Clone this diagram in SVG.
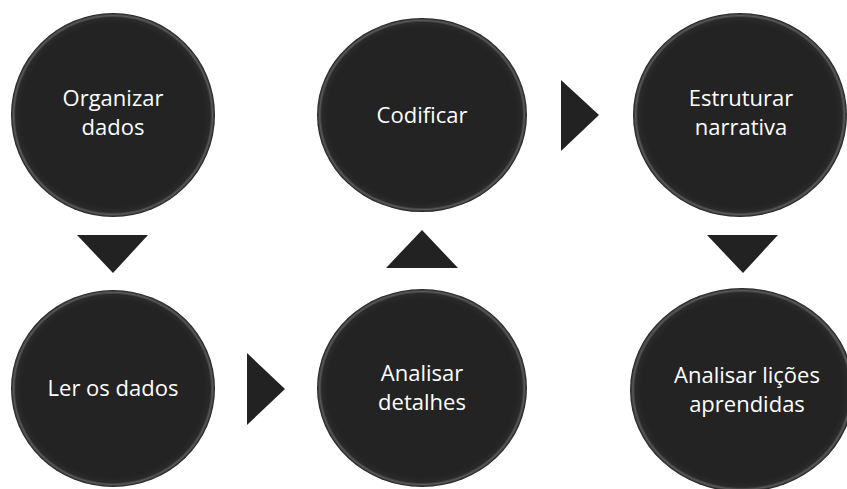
<svg xmlns="http://www.w3.org/2000/svg" width="847" height="489" viewBox="0 0 847 489">
  <defs>
    <radialGradient id="rim" cx="50%" cy="50%" r="50%">
      <stop offset="0.9" stop-color="#232323"/>
      <stop offset="0.955" stop-color="#2a2a2a"/>
      <stop offset="0.975" stop-color="#5a5a5a"/>
      <stop offset="1" stop-color="#1c1c1c"/>
    </radialGradient>
    <style>
      .node ellipse { fill: url(#rim); }
      .node text { fill: #ffffff; font-family: "Open Sans", "Liberation Sans", sans-serif; font-size: 22px; text-anchor: middle; }
      .conn polygon { fill: #222222; }
    </style>
  </defs>
  <rect width="847" height="489" fill="#ffffff"/>
  <g id="connectors" class="conn">
    <polygon points="77,235 148,235 113,273"/>
    <polygon points="247,353 247,425 285,389"/>
    <polygon points="386,268 458,268 422,230"/>
    <polygon points="561,80 561,151 599,115"/>
    <polygon points="707,235 778,235 743,273"/>
  </g>
  <g id="n1" class="node">
    <ellipse cx="113" cy="115" rx="102" ry="102"/>
    <text x="113" y="106">Organizar</text>
    <text x="113" y="135">dados</text>
  </g>
  <g id="n2" class="node">
    <ellipse cx="113" cy="388.5" rx="102" ry="98.5"/>
    <text x="113" y="396">Ler os dados</text>
  </g>
  <g id="n3" class="node">
    <ellipse cx="422" cy="388" rx="105" ry="99"/>
    <text x="422" y="381">Analisar</text>
    <text x="422" y="410">detalhes</text>
  </g>
  <g id="n4" class="node">
    <ellipse cx="422" cy="115" rx="105" ry="97"/>
    <text x="422" y="123">Codificar</text>
  </g>
  <g id="n5" class="node">
    <ellipse cx="740" cy="115" rx="107" ry="102"/>
    <text x="741" y="106">Estruturar</text>
    <text x="741" y="135">narrativa</text>
  </g>
  <g id="n6" class="node">
    <ellipse cx="742" cy="390" rx="112" ry="102"/>
    <text x="747" y="383">Analisar lições</text>
    <text x="747" y="412">aprendidas</text>
  </g>
</svg>
